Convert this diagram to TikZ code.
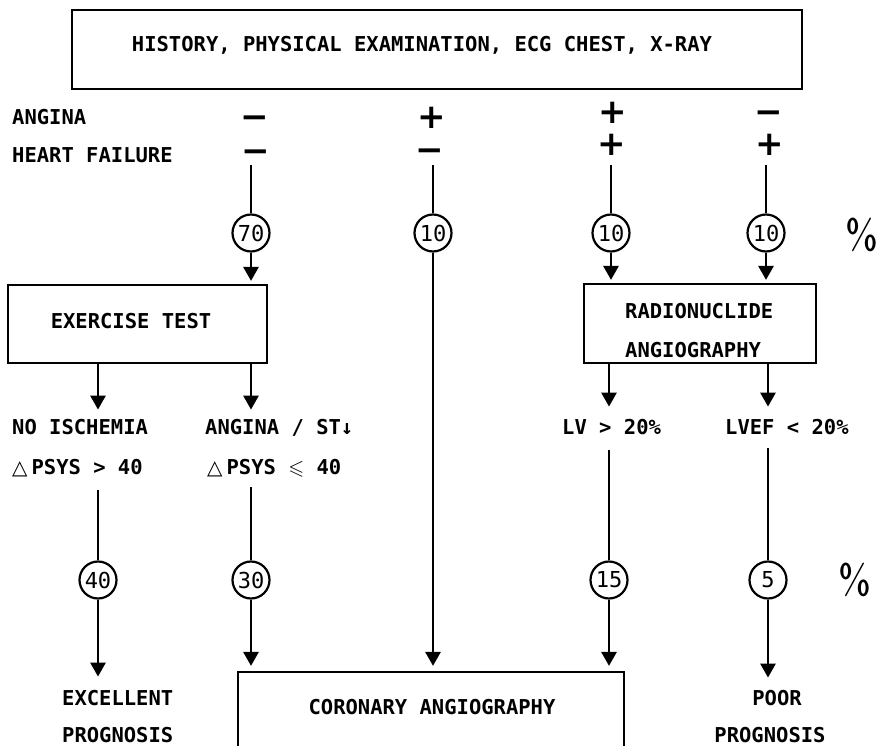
\documentclass[tikz,border=0pt]{standalone}
\usepackage{amssymb}
\usepackage{fontspec}
\setmonofont{DejaVu Sans Mono}
\newfontfamily\signfont{DejaVu Sans}
\usetikzlibrary{arrows.meta}

\newcommand{\deltasym}{{\signfont\fontsize{20}{20}\selectfont △}}

\begin{document}
\begin{tikzpicture}[x=1pt,y=-1pt,
    txt/.style={inner sep=0pt, font=\fontsize{20.5}{20.5}\ttfamily\bfseries},
    frame/.style={draw, line width=2.2pt, inner sep=0pt},
    ratio/.style={draw, circle, line width=2.2pt, minimum size=37pt, inner sep=0pt, font=\fontsize{22}{22}\ttfamily},
    sign/.style={inner sep=0pt, font=\fontsize{34}{34}\signfont\bfseries},
    link/.style={line width=2.8pt},
    flow/.style={line width=2.8pt, -{Triangle[length=14pt,width=15pt]}},
    pct/.style={inner sep=0pt, font=\fontsize{42}{42}\sffamily}]
        \useasboundingbox (0,0) rectangle (879,746);
        \clip (0,0) rectangle (879,746);

        % Boxes
        \node[frame, minimum width=730pt, minimum height=79pt] (hist) at (437,49.5) {};
        \node[frame, minimum width=259pt, minimum height=78pt] (ex) at (137.5,324) {};
        \node[frame, minimum width=232pt, minimum height=79pt] (radio) at (700,323.5) {};
        \node[frame, minimum width=386pt, minimum height=130pt] (cor) at (431,737) {};

        % Box texts
        \node[txt, anchor=base] (histtxt) at (422,52) {HISTORY, PHYSICAL EXAMINATION, ECG CHEST, X-RAY};
        \node[txt, anchor=base] (extxt) at (131,329) {EXERCISE TEST};
        \node[txt, anchor=base west] (radio1) at (625,319) {RADIONUCLIDE};
        \node[txt, anchor=base west] (radio2) at (625,357) {ANGIOGRAPHY};
        \node[txt, anchor=base] (cortxt) at (432,714) {CORONARY ANGIOGRAPHY};

        % Row labels
        \node[txt, anchor=base west] (ang) at (12,125) {ANGINA};
        \node[txt, anchor=base west] (hf) at (12,163) {HEART FAILURE};

        % Signs
        \node[sign, anchor=base] (a1) at (255,129) {−};
        \node[sign, anchor=base] (h1) at (256,163) {−};
        \node[sign, anchor=base] (a2) at (432,129) {+};
        \node[sign, anchor=base] (h2) at (430,162) {−};
        \node[sign, anchor=base] (a3) at (613,124) {+};
        \node[sign, anchor=base] (h3) at (612,156) {+};
        \node[sign, anchor=base] (a4) at (769,124) {−};
        \node[sign, anchor=base] (h4) at (770,156) {+};

        % Percentages
        \node[ratio] (p70) at (251,233) {70};
        \node[ratio] (p10a) at (433,233) {10};
        \node[ratio] (p10b) at (611,233) {10};
        \node[ratio] (p10c) at (766,233) {10};
        \node[ratio] (p40) at (98,580) {40};
        \node[ratio] (p30) at (251,580) {30};
        \node[ratio] (p15) at (609,580) {15};
        \node[ratio] (p5) at (768,580) {5};
        \node[pct] (pctup) at (862,235) {\%};
        \node[pct] (pctlo) at (855,580) {\%};

        % Test results
        \node[txt, anchor=base west] (nois) at (12,434) {NO ISCHEMIA};
        \node[txt, anchor=base west] (dp1) at (12,474) {\deltasym\hspace{4pt}PSYS > 40};
        \node[txt, anchor=base west] (angst) at (205,434) {ANGINA / ST↓};
        \node[txt, anchor=base west] (dp2) at (207,474) {\deltasym\hspace{4pt}PSYS $\leqslant$ 40};
        \node[txt, anchor=base west] (lvhi) at (562,434) {LV > 20\%};
        \node[txt, anchor=base west] (lvlo) at (725,434) {LVEF < 20\%};

        % Outcomes
        \node[txt, anchor=base west] (exc) at (62,705) {EXCELLENT};
        \node[txt, anchor=base west] (excp) at (62,742) {PROGNOSIS};
        \node[txt, anchor=base] (poor) at (777,705) {POOR};
        \node[txt, anchor=base] (poorp) at (770,742) {PROGNOSIS};

        % Upper connectors
        \draw[link, shorten <=2pt] (hf.south -| p70) -- (p70);
        \draw[link, shorten <=2pt] (hf.south -| p10a) -- (p10a);
        \draw[link, shorten <=2pt] (hf.south -| p10b) -- (p10b);
        \draw[link, shorten <=2pt] (hf.south -| p10c) -- (p10c);
        \draw[flow, shorten >=3pt] (p70) -- (ex.north -| p70);
        \draw[flow, shorten >=5pt] (p10a) -- (cor.north -| p10a);
        \draw[flow, shorten >=3pt] (p10b) -- (radio.north -| p10b);
        \draw[flow, shorten >=3pt] (p10c) -- (radio.north -| p10c);

        % Middle connectors
        \draw[flow, shorten >=9pt] (ex.south -| p40) -- (nois.north -| p40);
        \draw[flow, shorten >=9pt] (ex.south -| p30) -- (angst.north -| p30);
        \draw[flow, shorten >=12pt] (radio.south -| p15) -- (lvhi.north -| p15);
        \draw[flow, shorten >=12pt] (radio.south -| p5) -- (lvlo.north -| p5);
        \draw[link, shorten <=13pt] (dp1.south -| p40) -- (p40);
        \draw[link, shorten <=10pt] (dp2.south -| p30) -- (p30);
        \draw[link, shorten <=16pt] (lvhi.south -| p15) -- (p15);
        \draw[link, shorten <=14pt] (lvlo.south -| p5) -- (p5);

        % Lower connectors
        \draw[flow, shorten >=13pt] (p40) -- (exc.north -| p40);
        \draw[flow, shorten >=5pt] (p30) -- (cor.north -| p30);
        \draw[flow, shorten >=5pt] (p15) -- (cor.north -| p15);
        \draw[flow, shorten >=12pt] (p5) -- (poor.north -| p5);
\end{tikzpicture}
\end{document}
